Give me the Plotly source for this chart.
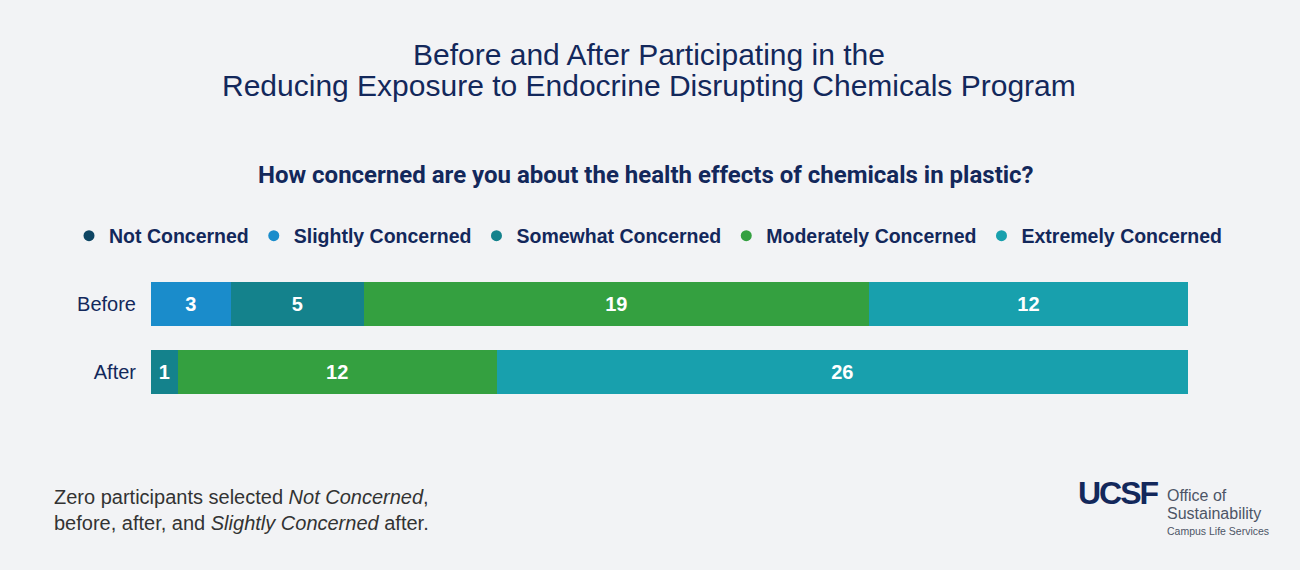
import plotly.graph_objects as go

groups = ["Before", "After"]
series_names = ["Not Concerned", "Slightly Concerned", "Somewhat Concerned",
                "Moderately Concerned", "Extremely Concerned"]
not_concerned = [0, 0]
slightly_concerned = [3, 0]
somewhat_concerned = [5, 1]
moderately_concerned = [19, 12]
extremely_concerned = [12, 26]
series_values = [not_concerned, slightly_concerned, somewhat_concerned,
                 moderately_concerned, extremely_concerned]
colors = ["#0e4563", "#1a8ccb", "#14828c", "#34a040", "#18a0ad"]

NAVY = "#13285b"
BG = "#f2f3f5"
ARIAL = "Liberation Sans, Arial, sans-serif"
W, H = 1300, 570
L, R, T, B = 40, 40, 270, 164          # plot area (wider than the bars, so the legend fits)
PW, PH = W - L - R, H - T - B
BAR_L, BAR_R = 151, 1188               # bar extent in pixels


def px(x):
    return (x - L) / PW


def py(y):
    return (H - B - y) / PH


fig = go.Figure()
for name, vals, col in zip(series_names, series_values, colors):
    fig.add_trace(go.Bar(
        y=groups, x=vals, orientation="h", name=name,
        marker=dict(color=col, line=dict(width=0)),
        text=[str(v) if v else "" for v in vals],
        textposition="inside", insidetextanchor="middle",
        textfont=dict(family=ARIAL, size=20, color="white", weight="bold"),
        textangle=0, showlegend=False, hoverinfo="x+name",
    ))
    fig.add_trace(go.Scatter(
        x=[None], y=[None], mode="markers", name=name,
        marker=dict(color=col, size=11, symbol="circle"),
        showlegend=True,
    ))

fig.update_layout(
    width=W, height=H,
    barmode="stack", bargap=0.353,
    paper_bgcolor=BG, plot_bgcolor=BG,
    margin=dict(l=L, r=R, t=T, b=B, autoexpand=False),
    xaxis=dict(range=[0, 39], visible=False, fixedrange=True,
               domain=[px(BAR_L), px(BAR_R)]),
    yaxis=dict(categoryorder="array", categoryarray=groups[::-1],
               range=[-0.5, 1.5], showgrid=False, zeroline=False,
               ticks="outside", ticklen=10, tickcolor="rgba(0,0,0,0)",
               tickfont=dict(family=ARIAL, size=20, color=NAVY)),
    legend=dict(orientation="h", traceorder="normal",
                x=px(648), xanchor="center", y=py(236), yanchor="middle",
                font=dict(family=ARIAL, size=19.5, color=NAVY, weight="bold"),
                itemwidth=30, tracegroupgap=0, bgcolor="rgba(0,0,0,0)"),
    showlegend=True,
)

ann = [
    dict(text="Before and After Participating in the", x=px(649), y=py(55),
         font=dict(family=ARIAL, size=30, color=NAVY)),
    dict(text="Reducing Exposure to Endocrine Disrupting Chemicals Program", x=px(649), y=py(85),
         font=dict(family=ARIAL, size=30, color=NAVY)),
    dict(text="<b>How concerned are you about the health effects of chemicals in plastic?</b>",
         x=px(646), y=py(175),
         font=dict(family="Roboto", size=24, color=NAVY)),
    dict(text="Zero participants selected <i>Not Concerned</i>,<br>before, after, and <i>Slightly Concerned</i> after.",
         x=px(52), y=py(510), xanchor="left", align="left",
         font=dict(family=ARIAL, size=20, color="#333333")),
    dict(text='<b><span style="letter-spacing:-2px">UCSF</span></b>', x=px(1076), y=py(493), xanchor="left",
         font=dict(family=ARIAL, size=32, color=NAVY)),
    dict(text="Office of", x=px(1165), y=py(495), xanchor="left", align="left",
         font=dict(family=ARIAL, size=16, color="#4d5566")),
    dict(text="Sustainability", x=px(1165), y=py(513), xanchor="left", align="left",
         font=dict(family=ARIAL, size=16, color="#4d5566")),
    dict(text="Campus Life Services", x=px(1165), y=py(531), xanchor="left", align="left",
         font=dict(family=ARIAL, size=10.5, color="#4d5566")),
]
for a in ann:
    a.setdefault("xanchor", "center")
    a.update(xref="paper", yref="paper", yanchor="middle", showarrow=False)
    fig.add_annotation(**a)

fig.write_html("out.html", config={"displayModeBar": False},
               post_script="document.body.style.margin='0';document.body.style.overflow='hidden';")
